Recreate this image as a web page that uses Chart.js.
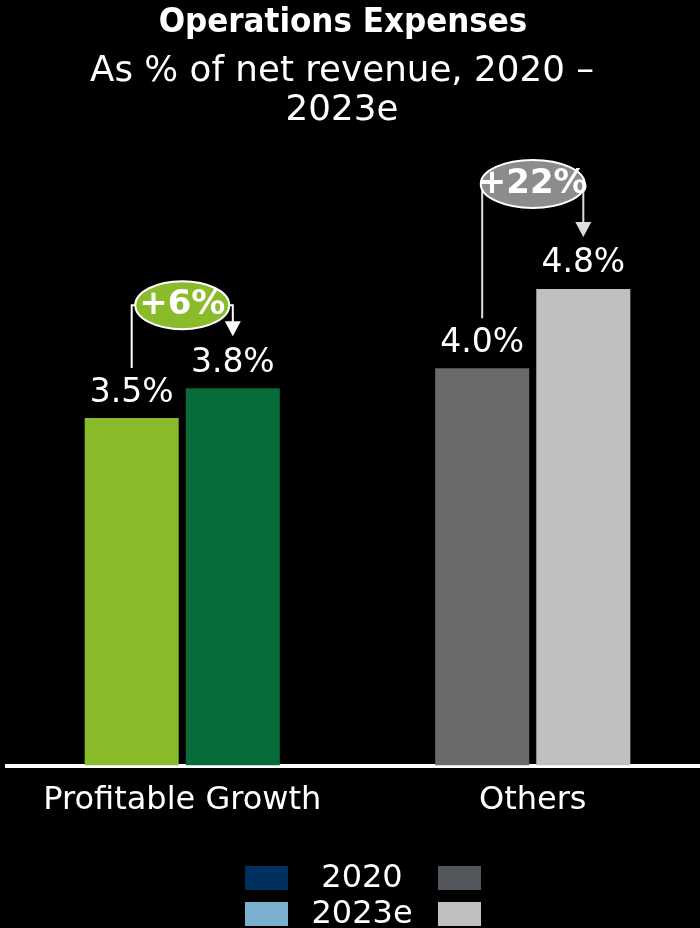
<!DOCTYPE html>
<html>
<head>
<meta charset="utf-8">
<script src="https://cdn.jsdelivr.net/npm/chart.js@4.4.0/dist/chart.umd.min.js"></script>
<style>
  html, body { margin: 0; padding: 0; background: #000; }
  #wrap { width: 700px; height: 928px; position: relative; overflow: hidden; }
  #inner { width: 708px; height: 928px; position: absolute; left: 0; top: 0; }
</style>
</head>
<body>
<div id="wrap"><div id="inner"><canvas id="opexChart"></canvas></div></div>
<script>
// Datos del gráfico
const categories = ['Profitable Growth', 'Others'];
const seriesNames = ['2020', '2023e'];
const values2020 = [3.5, 4.0];
const values2023 = [3.8, 4.8];
const changeLabels = ['+6%', '+22%'];
const titleText = 'Operations Expenses';
const subtitleLines = ['As % of net revenue, 2020 –', '2023e'];

// Colores por categoría (2020, 2023e)
const colors2020 = ['#8abb2a', '#6a6a6a'];
const colors2023 = ['#076b3a', '#c0c0c0'];
const bubbleColors = ['#8abb2a', '#8c8c8c'];
const bracketColors = ['#ffffff', '#dddddd'];
const bracketRaise = [83, 105];
const bubbleRadius = [47, 52];

// Colores de la leyenda
const legendLeft = ['#00305f', '#7aafd0'];
const legendRight = ['#53565a', '#c0c0c0'];

const FONT = "'DejaVu Sans', Verdana, sans-serif";
const FONT_COND = "'DejaVu Sans Condensed', 'DejaVu Sans', sans-serif";

// Título y subtítulo
const titlePlugin = {
    id: 'headerText',
    afterDraw(chart) {
        const ctx = chart.ctx;
        ctx.save();
        ctx.fillStyle = '#ffffff';
        ctx.textAlign = 'center';
        ctx.textBaseline = 'middle';
        ctx.font = 'bold 34.5px ' + FONT_COND;
        ctx.fillText(titleText, 343, 23);
        ctx.font = '35.7px ' + FONT;
        subtitleLines.forEach((line, i) => ctx.fillText(line, 342, 72 + i * 39));
        ctx.restore();
    }
};

// Etiquetas de valor y corchetes de variación
const annotatePlugin = {
    id: 'annotate',
    afterDatasetsDraw(chart) {
        const ctx = chart.ctx;
        const m0 = chart.getDatasetMeta(0);
        const m1 = chart.getDatasetMeta(1);

        ctx.save();
        ctx.fillStyle = '#ffffff';
        ctx.font = '33px ' + FONT;
        ctx.textAlign = 'center';
        ctx.textBaseline = 'middle';
        [m0, m1].forEach((meta, d) => {
            const vals = d === 0 ? values2020 : values2023;
            meta.data.forEach((bar, i) => {
                ctx.fillText(vals[i].toFixed(1) + '%', bar.x, bar.y - 25);
            });
        });

        categories.forEach((c, i) => {
            const a = m0.data[i];
            const b = m1.data[i];
            const top = Math.min(a.y, b.y) - bracketRaise[i];
            const cx = (a.x + b.x) / 2;
            const tipY = b.y - 52;

            ctx.strokeStyle = bracketColors[i];
            ctx.fillStyle = bracketColors[i];
            ctx.lineWidth = 2;
            ctx.beginPath();
            ctx.moveTo(a.x, a.y - 50);
            ctx.lineTo(a.x, top);
            ctx.lineTo(b.x, top);
            ctx.lineTo(b.x, tipY - 14);
            ctx.stroke();
            ctx.beginPath();
            ctx.moveTo(b.x - 8, tipY - 15);
            ctx.lineTo(b.x + 8, tipY - 15);
            ctx.lineTo(b.x, tipY);
            ctx.closePath();
            ctx.fill();

            ctx.beginPath();
            ctx.ellipse(cx, top, bubbleRadius[i], 24, 0, 0, Math.PI * 2);
            ctx.fillStyle = bubbleColors[i];
            ctx.fill();
            ctx.strokeStyle = '#ffffff';
            ctx.lineWidth = 2;
            ctx.stroke();

            ctx.fillStyle = '#ffffff';
            ctx.font = 'bold 34px ' + FONT;
            ctx.fillText(changeLabels[i], cx, top);
        });
        ctx.restore();
    }
};

// Leyenda personalizada en la parte inferior
const legendPlugin = {
    id: 'customLegend',
    afterDraw(chart) {
        const ctx = chart.ctx;
        ctx.save();
        ctx.font = '32px ' + FONT;
        ctx.textAlign = 'center';
        ctx.textBaseline = 'middle';
        seriesNames.forEach((name, i) => {
            const y = 866 + i * 36;
            ctx.fillStyle = legendLeft[i];
            ctx.fillRect(245, y, 43, 24);
            ctx.fillStyle = legendRight[i];
            ctx.fillRect(438, y, 43, 24);
            ctx.fillStyle = '#ffffff';
            ctx.fillText(name, 362, y + 13);
        });
        ctx.restore();
    }
};

new Chart(document.getElementById('opexChart'), {
    type: 'bar',
    data: {
        labels: categories,
        datasets: [
            { label: seriesNames[0], data: values2020, backgroundColor: colors2020 },
            { label: seriesNames[1], data: values2023, backgroundColor: colors2023 }
        ]
    },
    options: {
        responsive: true,
        maintainAspectRatio: false,
        animation: false,
        categoryPercentage: 0.577,
        barPercentage: 0.93,
        layout: { padding: { left: 7, right: 0, top: 130, bottom: 100 } },
        plugins: {
            legend: { display: false },
            tooltip: { enabled: false }
        },
        scales: {
            x: {
                grid: { display: false },
                border: { color: '#ffffff', width: 4 },
                ticks: { color: '#ffffff', font: { family: FONT, size: 32 }, padding: 8 }
            },
            y: {
                display: false,
                min: 0,
                max: 6.4
            }
        }
    },
    plugins: [annotatePlugin, legendPlugin, titlePlugin]
});
</script>
</body>
</html>
